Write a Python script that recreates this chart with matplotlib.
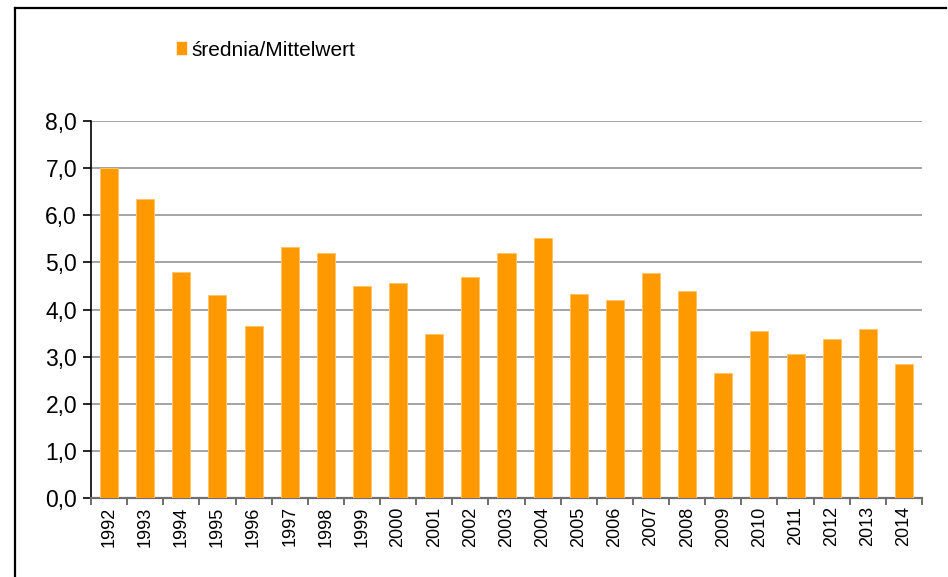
import matplotlib
matplotlib.use("Agg")
import matplotlib.pyplot as plt
from matplotlib.lines import Line2D
from matplotlib.patches import Patch
import numpy as np

years = ["1992", "1993", "1994", "1995", "1996", "1997", "1998", "1999", "2000",
         "2001", "2002", "2003", "2004", "2005", "2006", "2007", "2008", "2009",
         "2010", "2011", "2012", "2013", "2014"]
values = [7.00, 6.35, 4.80, 4.31, 3.65, 5.33, 5.19, 4.50, 4.56, 3.49, 4.69, 5.19,
          5.51, 4.33, 4.20, 4.77, 4.39, 2.66, 3.55, 3.05, 3.37, 3.58, 2.84]
series_label = "średnia/Mittelwert"
yticks = [0, 1, 2, 3, 4, 5, 6, 7, 8]
ytick_labels = ["0,0", "1,0", "2,0", "3,0", "4,0", "5,0", "6,0", "7,0", "8,0"]

plt.rcParams['font.family'] = ['Liberation Sans', 'DejaVu Sans']

fig = plt.figure(figsize=(9.48, 5.77), dpi=100)
ax = fig.add_axes([91/948, 1-498/577, (922-91)/948, (498-121)/577])

x = np.arange(len(years))
bar_color = "#FF9900"
ax.bar(x, values, width=0.5, color=bar_color, edgecolor="#FFC46A", linewidth=0.7, zorder=3)

ax.set_xlim(-0.5, len(years) - 0.5)
ax.set_ylim(0, 8)
ax.set_yticks(yticks)
ax.set_yticklabels(ytick_labels, fontsize=16.5)
ax.yaxis.grid(True, color="#8C8C8C", linewidth=1.1, zorder=0)
ax.set_axisbelow(True)

ax.set_xticks(x)
ax.set_xticklabels(years, rotation=90, fontsize=13)
ax.tick_params(axis="x", which="major", length=0, pad=6)
ax.set_xticks(np.arange(-0.5, len(years)), minor=True)
ax.tick_params(axis="x", which="minor", length=5, width=1.2, color="#555555", direction="out")
ax.tick_params(axis="y", length=6, width=1.2, color="black", direction="out", pad=4)

for s in ["top", "right"]:
    ax.spines[s].set_visible(False)
ax.spines["left"].set_color("black")
ax.spines["left"].set_linewidth(1.2)
ax.spines["bottom"].set_color("#707070")
ax.spines["bottom"].set_linewidth(1.6)

handle = Patch(facecolor=bar_color, edgecolor=bar_color)
fig.legend([handle], [series_label], loc="center left",
           bbox_to_anchor=(177/948, 1-50/577), frameon=False, fontsize=15,
           handlelength=0.45, handleheight=0.45, handletextpad=0.25, borderpad=0,
           borderaxespad=0)

# outer frame (left and top edges visible)
fig.add_artist(Line2D([15/948, 15/948], [0, 1-8/577], transform=fig.transFigure,
                      color="black", linewidth=1.6))
fig.add_artist(Line2D([15/948, 946/948], [1-8/577, 1-8/577], transform=fig.transFigure,
                      color="black", linewidth=1.6))

fig.savefig("out.png", dpi=100)
